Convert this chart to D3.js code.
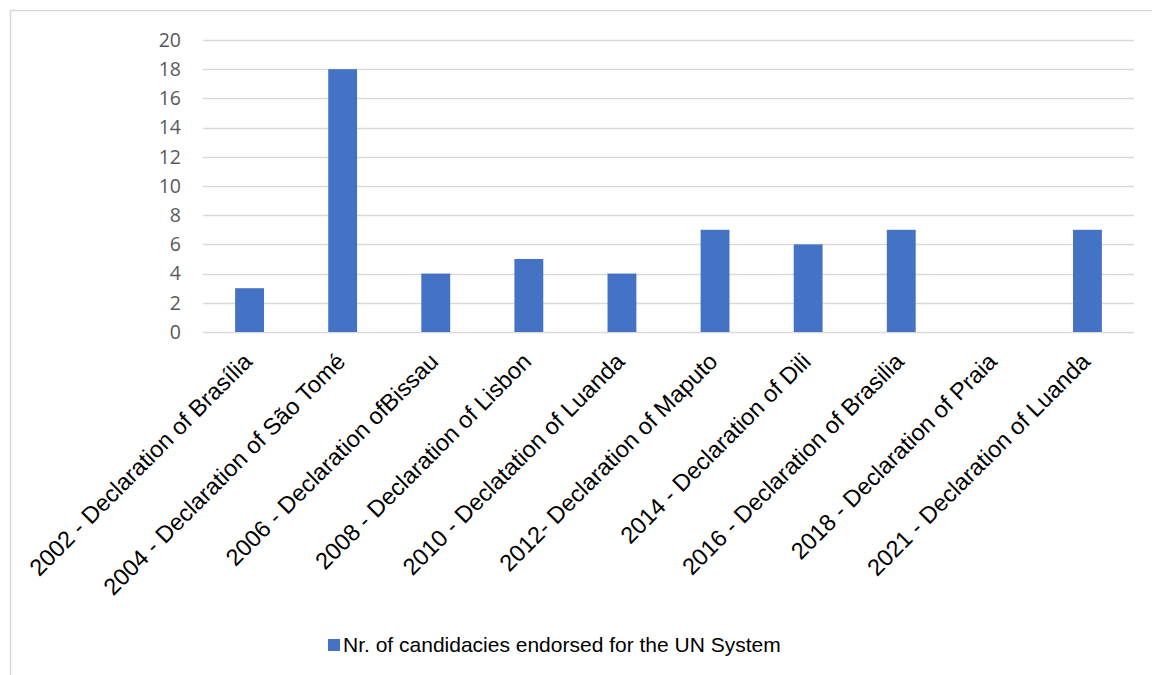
<!DOCTYPE html>
<html>
<head>
    <meta charset="utf-8">
    <script src="https://d3js.org/d3.v7.min.js"></script>
    <style>
      body { margin: 0; background: #fff; }
      svg { display: block; }
    </style>
</head>
<body>
    <div id="graph"></div>
    <script>
    // chart data
    const categories = [
      "2002 - Declaration of Brasília",
      "2004 - Declaration of São Tomé",
      "2006 - Declaration ofBissau",
      "2008 - Declaration of Lisbon",
      "2010 - Declatation of Luanda",
      "2012- Declaration of Maputo",
      "2014 - Declaration of Dili",
      "2016 - Declaration of Brasilia",
      "2018 - Declaration of Praia",
      "2021 - Declaration of Luanda"
    ];
    const candidacies = [3, 18, 4, 5, 4, 7, 6, 7, 0, 7];
    const yTicks = [0, 2, 4, 6, 8, 10, 12, 14, 16, 18, 20];
    const seriesName = "Nr. of candidacies endorsed for the UN System";

    const W = 1152, H = 675;
    const margin = { top: 40, right: 18, bottom: 343, left: 203 };
    const width = W - margin.left - margin.right;
    const height = H - margin.top - margin.bottom;

    const svg = d3.select("#graph")
      .append("svg")
      .attr("width", W)
      .attr("height", H);

    // outer chart border
    svg.append("rect")
      .attr("x", 10.5).attr("y", 10.5)
      .attr("width", W).attr("height", H)
      .attr("fill", "none")
      .attr("stroke", "#d9d9d9")
      .attr("stroke-width", 1.5);

    const g = svg.append("g")
      .attr("transform", `translate(${margin.left},${margin.top})`);

    const xScale = d3.scaleBand()
      .domain(categories)
      .range([0, width])
      .paddingInner(0.69)
      .paddingOuter(0.345);

    const yScale = d3.scaleLinear()
      .domain([0, 20])
      .range([height, 0]);

    // gridlines
    g.selectAll(".grid")
      .data(yTicks)
      .join("line")
      .attr("class", "grid")
      .attr("x1", 0).attr("x2", width)
      .attr("y1", d => Math.round(yScale(d)) + 0.5)
      .attr("y2", d => Math.round(yScale(d)) + 0.5)
      .attr("stroke", "#d9d9d9")
      .attr("stroke-width", 1.3);

    // y axis labels
    const yAxis = g.append("g")
      .call(d3.axisLeft(yScale).tickValues(yTicks).tickSize(0).tickPadding(22));
    yAxis.select(".domain").remove();
    yAxis.selectAll("text")
      .style("font-family", "'Open Sans', 'Noto Sans', sans-serif")
      .style("font-size", "19.5px")
      .attr("fill", "#595959");

    // bars
    g.selectAll(".bar")
      .data(candidacies)
      .join("rect")
      .attr("class", "bar")
      .attr("x", (d, i) => xScale(categories[i]))
      .attr("y", d => yScale(d))
      .attr("width", xScale.bandwidth())
      .attr("height", d => yScale(0) - yScale(d))
      .attr("fill", "#4472c4");

    // x axis labels, rotated
    const xAxis = g.append("g")
      .attr("transform", `translate(0,${height})`)
      .call(d3.axisBottom(xScale).tickSize(0).tickPadding(0));
    xAxis.select(".domain").remove();
    xAxis.selectAll("text")
      .style("font-family", "'Liberation Sans', Arial, sans-serif")
      .style("font-size", "23.5px")
      .attr("fill", "#000")
      .attr("text-anchor", "end")
      .attr("dy", null)
      .attr("y", 0)
      .attr("transform", "translate(4,31) rotate(-45)");

    // legend
    const legend = svg.append("g")
      .attr("transform", "translate(328,639)");
    legend.append("rect")
      .attr("width", 12).attr("height", 12)
      .attr("fill", "#4472c4");
    legend.append("text")
      .attr("x", 15)
      .attr("y", 13)
      .text(seriesName)
      .style("font-family", "'Liberation Sans', Arial, sans-serif")
      .style("font-size", "21px")
      .attr("fill", "#000");
    </script>
</body>
</html>
